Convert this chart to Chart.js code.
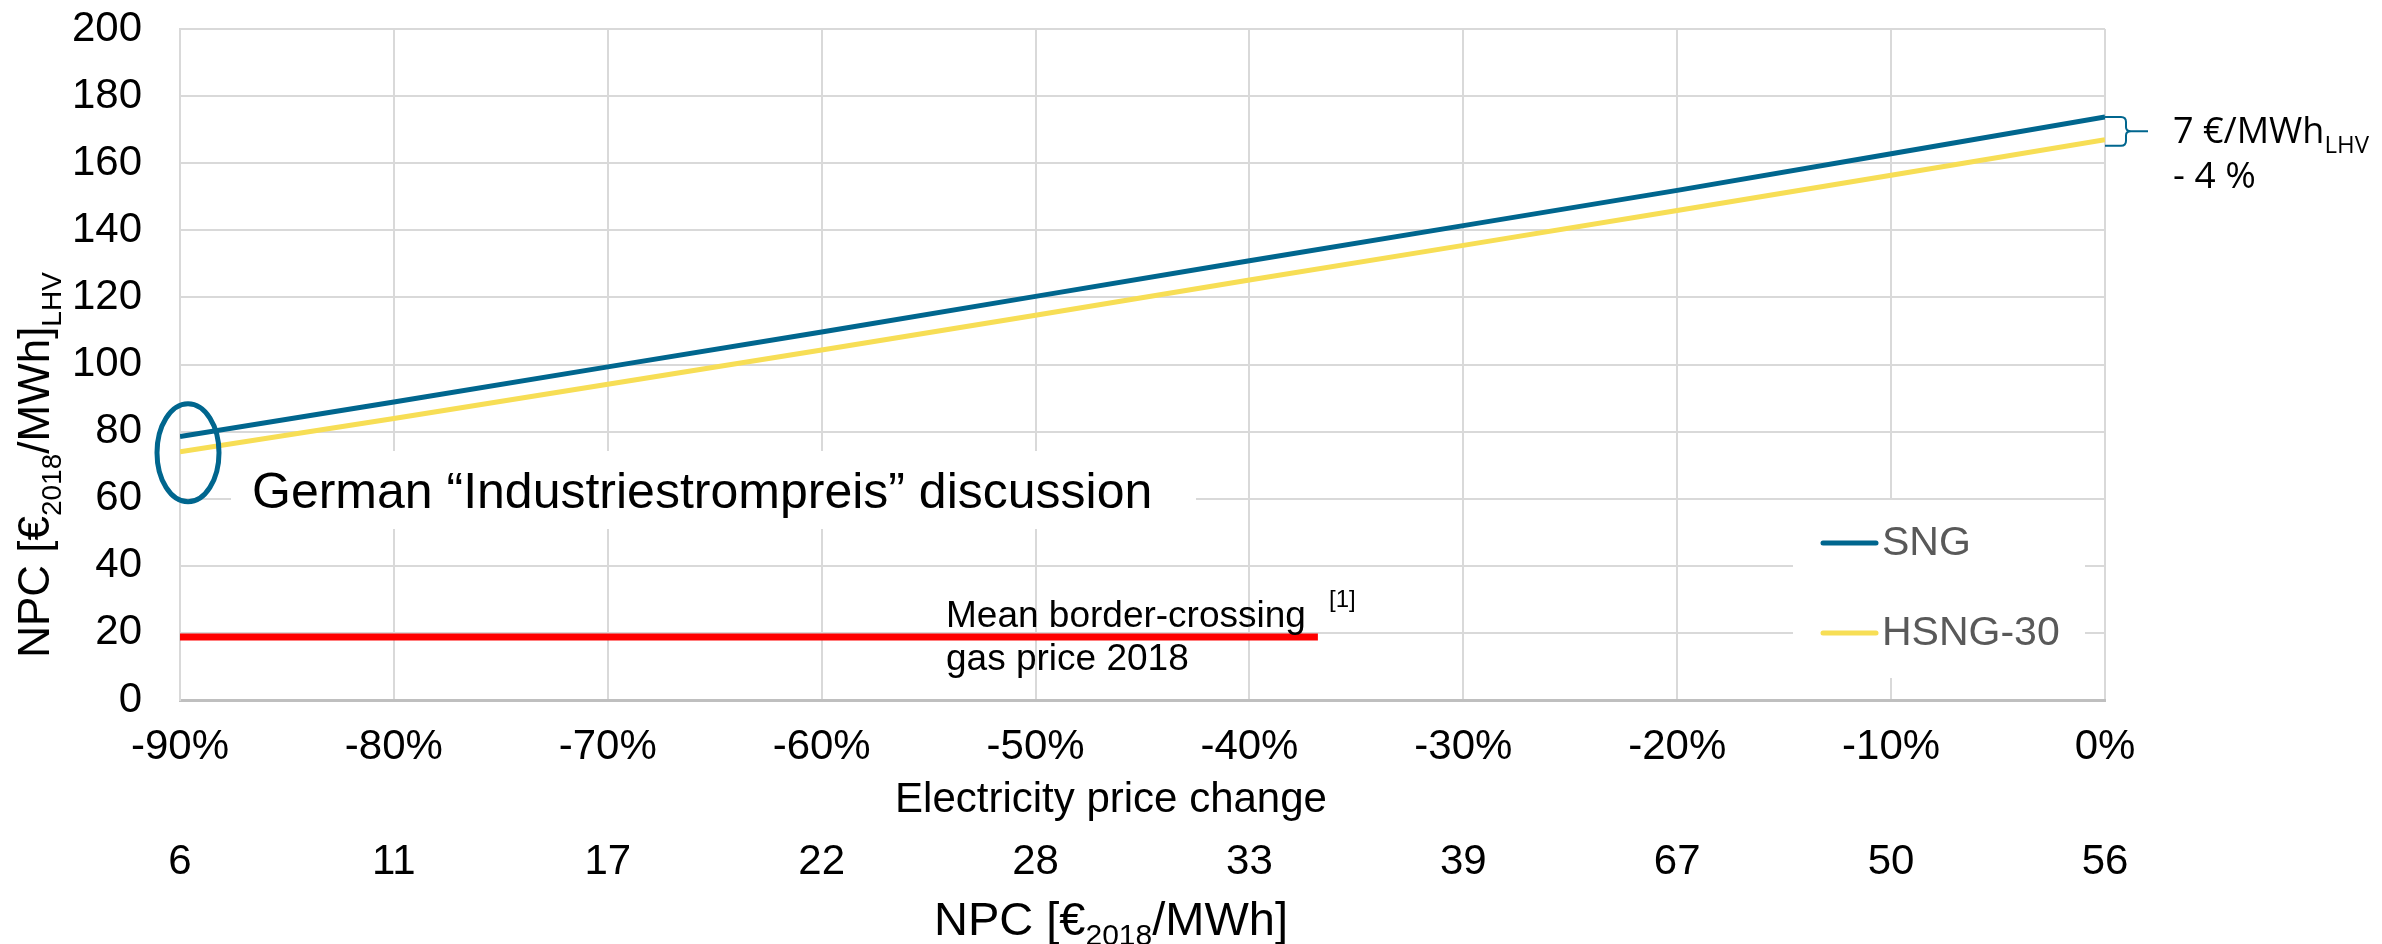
<!DOCTYPE html>
<html><head><meta charset="utf-8">
<script src="https://cdn.jsdelivr.net/npm/chart.js@4/dist/chart.umd.min.js"></script>
<style>html,body{margin:0;padding:0;background:#fff}#wrap{width:2382px;height:944px;position:relative}</style>
</head><body><div id="wrap"><canvas id="c"></canvas></div>
<script>
// ---- data ----
const priceChange = [-90, -80, -70, -60, -50, -40, -30, -20, -10, 0];
const npcElectricity = ['6', '11', '17', '22', '28', '33', '39', '67', '50', '56'];
const sngValues  = [78.5, 88.8, 99.3, 109.7, 120.3, 130.9, 141.4, 151.9, 162.8, 173.8];
const hsngValues = [74.0, 83.9, 94.1, 104.3, 114.7, 125.2, 135.5, 145.9, 156.4, 167.0];
const borderGasX = [-90, -36.8];
const borderGasY = [18.8, 18.8];
const seriesNames = ['SNG', 'HSNG-30', 'Mean border-crossing gas price 2018'];
const yTicks = { min: 0, max: 200, step: 20 };
const yTitleRuns = [['NPC [€', 0], ['2018', 1], ['/MWh]', 0], ['LHV', 1]];
const x1Title = 'Electricity price change';
const x2TitleRuns = [['NPC [€', 0], ['2018', 1], ['/MWh]', 0]];
const noteDiffRuns = [['7 €/MWh', 0], ['LHV', 1]];
const notePercent = '- 4 %';
const industryNote = 'German \u201CIndustriestrompreis\u201D discussion';
const gasNoteLines = ['Mean border-crossing', 'gas price 2018'];
const gasRef = '[1]';
const circleCenter = { x: -90, y: 73.7 };

const BLUE = '#00668E', YELLOW = '#F7DE55', RED = '#FF0000';
const FONT = '"Liberation Sans", Arial, sans-serif';

function drawRuns(ctx, runs, x, y, align, F, S, dy, family, color) {
  ctx.save();
  ctx.fillStyle = color; ctx.textBaseline = 'alphabetic'; ctx.textAlign = 'left';
  let total = 0;
  runs.forEach(r => { ctx.font = (r[1] ? S : F) + 'px ' + family; total += ctx.measureText(r[0]).width; });
  let cx = align === 'center' ? x - total / 2 : x;
  runs.forEach(r => {
    ctx.font = (r[1] ? S : F) + 'px ' + family;
    ctx.fillText(r[0], cx, y + (r[1] ? dy : 0));
    cx += ctx.measureText(r[0]).width;
  });
  ctx.restore();
}

const decor = {
  id: 'decor',
  beforeDatasetsDraw(chart) {
    const ctx = chart.ctx;
    ctx.save();
    ctx.fillStyle = '#fff';
    ctx.fillRect(231, 451, 965, 78);   // box behind German note
    ctx.fillRect(1793, 500, 292, 178); // legend box
    ctx.restore();
  },
  afterDatasetsDraw(chart) {
    const ctx = chart.ctx;
    const xs = chart.scales.x, ys = chart.scales.y;
    // ellipse
    ctx.save();
    ctx.strokeStyle = BLUE; ctx.lineWidth = 5;
    ctx.beginPath();
    ctx.ellipse(xs.getPixelForValue(circleCenter.x) + 8, ys.getPixelForValue(circleCenter.y), 31, 49, 0, 0, Math.PI * 2);
    ctx.stroke();
    ctx.restore();
    // German note
    ctx.save();
    ctx.fillStyle = '#000'; ctx.font = '50px ' + FONT; ctx.textBaseline = 'alphabetic';
    ctx.fillText(industryNote, 252, 508);
    // gas note
    ctx.font = '37px ' + FONT;
    ctx.fillText(gasNoteLines[0], 946, 627);
    ctx.fillText(gasNoteLines[1], 946, 670);
    ctx.font = '24px ' + FONT;
    ctx.fillText(gasRef, 1329, 607);
    ctx.restore();
    // legend
    ctx.save();
    const items = [[BLUE, chart.data.datasets[0].label, 543], [YELLOW, chart.data.datasets[1].label, 633]];
    items.forEach(it => {
      ctx.strokeStyle = it[0]; ctx.lineWidth = 5; ctx.lineCap = 'round';
      ctx.beginPath(); ctx.moveTo(1823, it[2]); ctx.lineTo(1876, it[2]); ctx.stroke();
      ctx.fillStyle = '#595959'; ctx.font = '41px ' + FONT; ctx.textBaseline = 'middle';
      ctx.fillText(it[1], 1882, it[2] + 1);
    });
    ctx.restore();
    // brace
    const right = xs.right;
    const yTop = ys.getPixelForValue(sngValues[sngValues.length - 1]);
    const yBot = ys.getPixelForValue(hsngValues[hsngValues.length - 1]) + 6;
    const ym = (yTop + yBot) / 2;
    ctx.save();
    ctx.strokeStyle = BLUE; ctx.lineWidth = 2;
    ctx.beginPath();
    ctx.moveTo(right, yTop);
    ctx.lineTo(right + 16, yTop);
    ctx.quadraticCurveTo(right + 21, yTop, right + 21, yTop + 5);
    ctx.lineTo(right + 21, ym - 4);
    ctx.quadraticCurveTo(right + 21, ym, right + 26, ym);
    ctx.quadraticCurveTo(right + 21, ym, right + 21, ym + 4);
    ctx.lineTo(right + 21, yBot - 5);
    ctx.quadraticCurveTo(right + 21, yBot, right + 16, yBot);
    ctx.lineTo(right, yBot);
    ctx.moveTo(right + 26, ym);
    ctx.lineTo(right + 43, ym);
    ctx.stroke();
    ctx.restore();
    drawRuns(ctx, noteDiffRuns, 2173, 143, 'left', 36, 24, 10, '"Open Sans", sans-serif', '#000');
    ctx.save(); ctx.fillStyle = '#000'; ctx.font = '37px "Open Sans", sans-serif';
    ctx.fillText(notePercent, 2173, 188); ctx.restore();
    // axis titles
    ctx.save();
    ctx.translate(49, 465); ctx.rotate(-Math.PI / 2);
    drawRuns(ctx, yTitleRuns, 0, 0, 'center', 44, 28, 12, FONT, '#000');
    ctx.restore();
    const cx = 1111;
    ctx.save(); ctx.fillStyle = '#000'; ctx.font = '42px ' + FONT; ctx.textAlign = 'center'; ctx.textBaseline = 'middle';
    ctx.fillText(x1Title, cx, 800); ctx.restore();
    drawRuns(ctx, x2TitleRuns, cx, 935, 'center', 47, 30, 10, FONT, '#000');
  }
};

new Chart(document.getElementById('c'), {
  type: 'line',
  data: {
    datasets: [
      { label: seriesNames[0], data: priceChange.map((v, i) => ({ x: v, y: sngValues[i] })), borderColor: BLUE, borderWidth: 5, pointRadius: 0, xAxisID: 'x', yAxisID: 'y' },
      { label: seriesNames[1], data: priceChange.map((v, i) => ({ x: v, y: hsngValues[i] })), borderColor: YELLOW, borderWidth: 5, pointRadius: 0, xAxisID: 'x', yAxisID: 'y' },
      { label: seriesNames[2], data: borderGasX.map((v, i) => ({ x: v, y: borderGasY[i] })), borderColor: RED, borderWidth: 7, pointRadius: 0, xAxisID: 'x', yAxisID: 'y' }
    ]
  },
  options: {
    responsive: true, maintainAspectRatio: false, animation: false,
    layout: { autoPadding: false, padding: { top: 29, right: 277, left: 0, bottom: 0 } },
    plugins: { legend: { display: false }, tooltip: { enabled: false } },
    scales: {
      x: {
        type: 'linear', position: 'bottom', min: -90, max: 0, weight: 0,
        ticks: { stepSize: 10, callback: v => v + '%', color: '#000', font: { family: FONT, size: 42 }, padding: 22, maxRotation: 0, autoSkip: false },
        grid: { color: '#D9D9D9', lineWidth: 2, drawTicks: false },
        border: { color: '#BFBFBF', width: 3 },
        afterFit: s => { s.height = 126; s.paddingLeft = 0; s.paddingRight = 0; }
      },
      x2: {
        type: 'category', position: 'bottom', labels: npcElectricity, offset: false, weight: 1,
        ticks: { color: '#000', font: { family: FONT, size: 42 }, padding: 11, maxRotation: 0, autoSkip: false },
        grid: { display: false, drawTicks: false },
        border: { display: false },
        afterFit: s => { s.height = 118; s.paddingLeft = 0; s.paddingRight = 0; }
      },
      y: {
        min: yTicks.min, max: yTicks.max,
        ticks: { stepSize: yTicks.step, color: '#000', font: { family: FONT, size: 42 }, padding: 38 },
        grid: { color: '#D9D9D9', lineWidth: 2, drawTicks: false },
        border: { color: '#D9D9D9', width: 2 },
        afterFit: s => { s.width = 180; s.paddingTop = 0; s.paddingBottom = 0; }
      }
    }
  },
  plugins: [decor]
});
</script></body></html>
